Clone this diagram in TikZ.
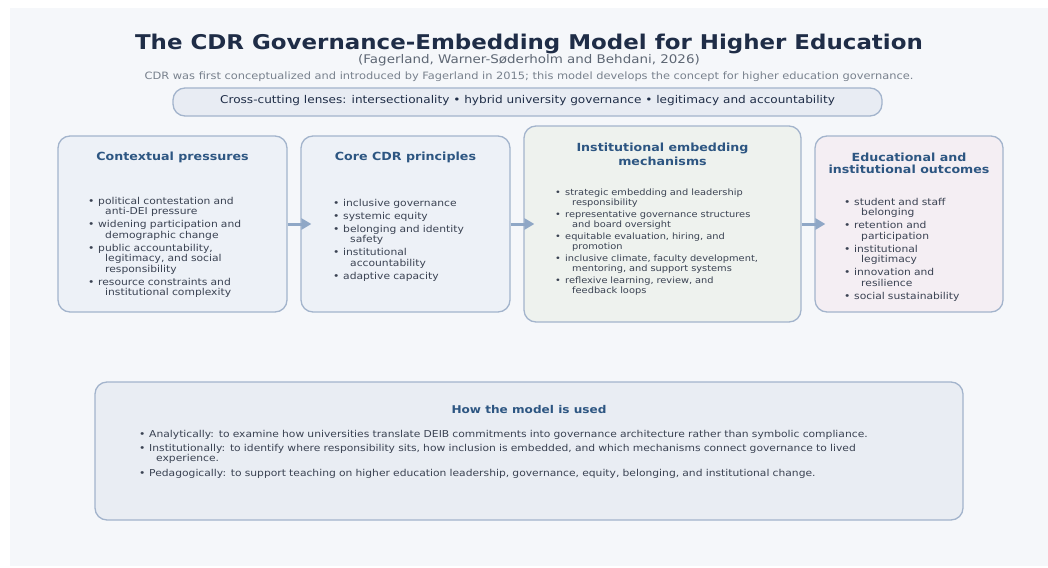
\documentclass[tikz,border=0pt]{standalone}
\usepackage{fontspec}
\setmainfont[FakeStretch=1.13]{DejaVu Sans}
\usetikzlibrary{arrows.meta}

\definecolor{pagebg}{HTML}{F5F7FA}
\definecolor{navy}{HTML}{1F2D47}
\definecolor{headblue}{HTML}{2D5682}
\definecolor{bodytext}{HTML}{3A4252}
\definecolor{subgray}{HTML}{5E6774}
\definecolor{notegray}{HTML}{78818D}
\definecolor{edgeblue}{HTML}{A3B4CC}
\definecolor{arrowblue}{HTML}{8FA7C6}
\definecolor{fillblue}{HTML}{EDF1F7}
\definecolor{fillgreen}{HTML}{EEF2EE}
\definecolor{fillpink}{HTML}{F4EEF3}
\definecolor{filllens}{HTML}{E8ECF3}
\definecolor{fillbottom}{HTML}{E9EDF3}

% bullet line and its hanging continuation
\newcommand\bitem[1]{\makebox[10pt][l]{•}#1}
\newcommand\bcont[1]{\hspace*{17pt}#1}

\begin{document}
\begin{tikzpicture}[x=1pt,y=-1pt,
  panel/.style={draw=edgeblue, line width=1.3pt, rounded corners=12pt, inner sep=0pt},
  heading/.style={font=\bfseries\fontsize{11.2}{13}\selectfont, text=headblue, align=center, inner sep=0pt},
  items/.style={font=\fontsize{9.5}{10.5}\selectfont, text=bodytext, align=left, text width=220pt, anchor=base west, inner sep=0pt},
  flow/.style={draw=arrowblue, line width=3pt, -{Triangle[length=10pt,width=11pt]}}]
\useasboundingbox (0,0) rectangle (1048,567);
\fill[pagebg] (10,8) rectangle (1048,566);

% header
\node[font=\bfseries\fontsize{20.3}{24}\selectfont, text=navy] (title) at (529,43.5) {The CDR Governance-Embedding Model for Higher Education};
\node[font=\fontsize{11.9}{14}\selectfont, text=subgray] (authors) at (529,60.5) {(Fagerland, Warner-Søderholm and Behdani, 2026)};
\node[font=\fontsize{10.1}{12}\selectfont, text=notegray] (origin) at (529,77) {CDR was first conceptualized and introduced by Fagerland in 2015; this model develops the concept for higher education governance.};
\node[panel, fill=filllens, minimum width=709pt, minimum height=28pt] (lens) at (527.5,102) {};
\node[font=\fontsize{10.7}{12}\selectfont, text=navy] (lenstext) at (527.5,101)
  {Cross-cutting lenses: intersectionality • hybrid university governance • legitimacy and accountability};

% stage panels
\node[panel, fill=fillblue, minimum width=229pt, minimum height=176pt] (b1) at (172.5,224) {};
\node[panel, fill=fillblue, minimum width=209pt, minimum height=176pt] (b2) at (405.5,224) {};
\node[panel, fill=fillgreen, minimum width=277pt, minimum height=196pt] (b3) at (662.5,224) {};
\node[panel, fill=fillpink, minimum width=188pt, minimum height=176pt] (b4) at (909,224) {};

% flow between stages
\draw[flow] (b1.east) -- ([xshift=11pt]b2.west);
\draw[flow] (b2.east) -- ([xshift=11pt]b3.west);
\draw[flow] (b3.east) -- ([xshift=11pt]b4.west);

% panel contents
\node[heading] (h1) at (172.5,157) {Contextual pressures};
\node[items] (t1) at (88,204) {\bitem{political contestation and}\\\bcont{anti-DEI pressure}\\[2.5pt]
  \bitem{widening participation and}\\\bcont{demographic change}\\[2.5pt]
  \bitem{public accountability,}\\\bcont{legitimacy, and social}\\\bcont{responsibility}\\[2.5pt]
  \bitem{resource constraints and}\\\bcont{institutional complexity}};

\node[heading] (h2) at (405.5,157) {Core CDR principles};
\node[items] (t2) at (333,206) {\bitem{inclusive governance}\\[2.5pt]
  \bitem{systemic equity}\\[2.5pt]
  \bitem{belonging and identity}\\\bcont{safety}\\[2.5pt]
  \bitem{institutional}\\\bcont{accountability}\\[2.5pt]
  \bitem{adaptive capacity}};

\node[heading, font=\bfseries\fontsize{11.2}{14}\selectfont] (h3) at (662.5,154) {Institutional embedding\\mechanisms};
\node[items, font=\fontsize{8.7}{10}\selectfont] (t3) at (555,195) {\bitem{strategic embedding and leadership}\\\bcont{responsibility}\\[2pt]
  \bitem{representative governance structures}\\\bcont{and board oversight}\\[2pt]
  \bitem{equitable evaluation, hiring, and}\\\bcont{promotion}\\[2pt]
  \bitem{inclusive climate, faculty development,}\\\bcont{mentoring, and support systems}\\[2pt]
  \bitem{reflexive learning, review, and}\\\bcont{feedback loops}};

\node[heading, font=\bfseries\fontsize{11.2}{12}\selectfont] (h4) at (909,163) {Educational and\\institutional outcomes};
\node[items] (t4) at (844,205) {\bitem{student and staff}\\\bcont{belonging}\\[2.5pt]
  \bitem{retention and}\\\bcont{participation}\\[2.5pt]
  \bitem{institutional}\\\bcont{legitimacy}\\[2.5pt]
  \bitem{innovation and}\\\bcont{resilience}\\[2.5pt]
  \bitem{social sustainability}};

% usage panel
\node[panel, fill=fillbottom, minimum width=868pt, minimum height=138pt] (use) at (529,451) {};
\node[heading, font=\bfseries\fontsize{10.7}{13}\selectfont] (hu) at (529,410) {How the model is used};
\node[items, text width=800pt, font=\fontsize{9.5}{10}\selectfont] (tu) at (139,437)
  {\bitem{Analytically: to examine how universities translate DEIB commitments into governance architecture rather than symbolic compliance.}\\[4.5pt]
  \bitem{Institutionally: to identify where responsibility sits, how inclusion is embedded, and which mechanisms connect governance to lived}\\\bcont{experience.}\\[5pt]
  \bitem{Pedagogically: to support teaching on higher education leadership, governance, equity, belonging, and institutional change.}};
\end{tikzpicture}
\end{document}
